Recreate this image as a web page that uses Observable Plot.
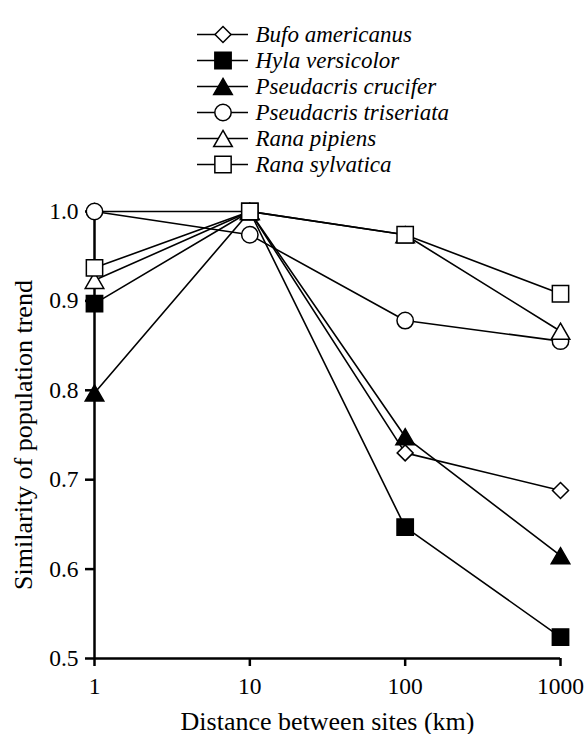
<!DOCTYPE html>
<html><head><meta charset="utf-8">
<script src="https://cdn.jsdelivr.net/npm/d3@7"></script>
<script src="https://cdn.jsdelivr.net/npm/@observablehq/plot@0.6"></script>
<style>
body{margin:0;background:#fff}
#chart svg{display:block}
</style>
</head><body><div id="chart"></div>
<script>
const species = ["Bufo americanus","Hyla versicolor","Pseudacris crucifer","Pseudacris triseriata","Rana pipiens","Rana sylvatica"];
const distances = [1, 10, 100, 1000];
const bufoAmericanus       = [1.000, 1.000, 0.730, 0.688];
const hylaVersicolor       = [0.897, 1.000, 0.647, 0.524];
const pseudacrisCrucifer   = [0.797, 1.000, 0.748, 0.615];
const pseudacrisTriseriata = [1.000, 0.974, 0.878, 0.855];
const ranaPipiens          = [0.923, 1.000, 0.974, 0.866];
const ranaSylvatica        = [0.937, 1.000, 0.974, 0.908];
const yTicks = [0.5, 0.6, 0.7, 0.8, 0.9, 1.0];
const fills = ["white", "black", "black", "white", "white", "white"];
const sizes = [7.2, 9.2, 6.9, 8.2, 6.9, 9.2];

// equilateral triangle centred on its bounding box (as in the original figure)
const boxTriangle = {
  draw(context, size) {
    const s = Math.sqrt(4 * size / Math.sqrt(3));
    const h = s * Math.sqrt(3) / 2;
    context.moveTo(0, -h / 2);
    context.lineTo(s / 2, h / 2);
    context.lineTo(-s / 2, h / 2);
    context.closePath();
  }
};
const symbols = ["diamond2", "square", boxTriangle, "circle", boxTriangle, "square"];

const series = [bufoAmericanus, hylaVersicolor, pseudacrisCrucifer, pseudacrisTriseriata, ranaPipiens, ranaSylvatica];
const data = species.flatMap((s, i) => series[i].map((v, j) => ({s, d: distances[j], v})));
const rOf = s => sizes[species.indexOf(s)];

const serif = "'Liberation Serif', 'Times New Roman', serif";

const legend = Plot.plot({
  width: 586, height: 196,
  marginTop: 19, marginBottom: 17, marginLeft: 197, marginRight: 338,
  style: {fontFamily: serif, fontSize: "23px", background: "white", color: "black"},
  x: {domain: [0, 1], axis: null},
  y: {type: "point", domain: species, axis: null},
  symbol: {domain: species, range: symbols},
  color: {domain: species, range: fills},
  r: {type: "identity"},
  marks: [
    Plot.ruleY(species, {y: d => d, stroke: "black", strokeWidth: 1.5}),
    Plot.dot(species, {y: d => d, symbol: d => d, fill: d => d, r: rOf, stroke: "black", strokeWidth: 1.5, sort: null}),
    Plot.text(species, {y: d => d, text: d => d, frameAnchor: "right", textAnchor: "start", dx: 7, fontStyle: "italic"})
  ]
});

const chart = Plot.plot({
  width: 586, height: 538,
  marginTop: 15, marginBottom: 76, marginLeft: 94, marginRight: 26,
  style: {fontFamily: serif, fontSize: "23.5px", background: "white", color: "black"},
  x: {type: "log", domain: [1, 1000]},
  y: {domain: [0.5, 1.0]},
  symbol: {domain: species, range: symbols},
  color: {domain: species, range: fills},
  r: {type: "identity"},
  marks: [
    Plot.axisX({ticks: distances, tickFormat: d => String(d), tickSize: 8, tickPadding: 11, strokeWidth: 2.5,
      label: "Distance between sites (km)", labelAnchor: "center", labelOffset: 71, labelArrow: "none"}),
    Plot.axisY({ticks: yTicks, tickFormat: d3.format(".1f"), tickSize: 9, tickPadding: 7, strokeWidth: 2.5,
      label: "Similarity of population trend", labelAnchor: "center", labelOffset: 81, labelArrow: "none"}),
    Plot.ruleX([1], {strokeWidth: 2.5}),
    Plot.ruleY([0.5], {strokeWidth: 2.5}),
    Plot.line(data, {x: "d", y: "v", z: "s", stroke: "black", strokeWidth: 1.6}),
    Plot.dot(data, {x: "d", y: "v", symbol: "s", fill: "s", r: d => rOf(d.s), stroke: "black", strokeWidth: 1.5, sort: null})
  ]
});

document.getElementById("chart").append(legend, chart);
chart.querySelectorAll('g[aria-label="x-axis label"] text, g[aria-label="y-axis label"] text').forEach(t => t.style.fontSize = "26px");
</script>
</body></html>
